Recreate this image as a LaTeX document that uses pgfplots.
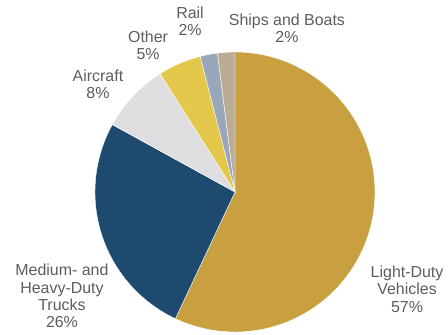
\documentclass[border=0pt]{standalone}
\usepackage{pgfplots}
\pgfplotsset{compat=1.18}
\usepackage{fontspec}
\setmainfont{Liberation Sans}
\definecolor{cLDV}{HTML}{C9A040}
\definecolor{cTruck}{HTML}{1D4A6E}
\definecolor{cAir}{HTML}{DEDEE0}
\definecolor{cOther}{HTML}{E3C84C}
\definecolor{cRail}{HTML}{9AA7BA}
\definecolor{cShip}{HTML}{BBAC96}
\definecolor{txt}{HTML}{5C5C5C}
% shares in percent
\def\vLDV{57}
\def\vTruck{26}
\def\vAir{8}
\def\vOther{5}
\def\vRail{2}
\def\vShip{2}
\tikzset{lbl/.style={font=\fontsize{16}{17.5}\selectfont, text=txt, align=center, inner sep=0pt}}
\begin{document}
\begin{tikzpicture}
\pgfmathsetmacro\aA{90}
\pgfmathsetmacro\aB{\aA-3.6*\vLDV}
\pgfmathsetmacro\aC{\aB-3.6*\vTruck}
\pgfmathsetmacro\aD{\aC-3.6*\vAir}
\pgfmathsetmacro\aE{\aD-3.6*\vOther}
\pgfmathsetmacro\aF{\aE-3.6*\vRail}
\pgfmathsetmacro\aG{\aF-3.6*\vShip}
\begin{axis}[
  hide axis, scale only axis,
  x=140bp, y=140bp,
  xmin=-1.678571, xmax=1.521429,
  ymin=-1.021429, ymax=1.371429,
  clip=false,
]
\addplot[fill=cLDV, draw=white, line width=0.4pt, domain=\aB:\aA, samples=80, variable=\t] ({cos(t)},{sin(t)}) -- (axis cs:0,0) -- cycle;
\addplot[fill=cTruck, draw=white, line width=0.4pt, domain={\aC+360}:{\aB+360}, samples=50, variable=\t] ({cos(t)},{sin(t)}) -- (axis cs:0,0) -- cycle;
\addplot[fill=cAir, draw=white, line width=0.4pt, domain={\aD+360}:{\aC+360}, samples=20, variable=\t] ({cos(t)},{sin(t)}) -- (axis cs:0,0) -- cycle;
\addplot[fill=cOther, draw=white, line width=0.4pt, domain={\aE+360}:{\aD+360}, samples=15, variable=\t] ({cos(t)},{sin(t)}) -- (axis cs:0,0) -- cycle;
\addplot[fill=cRail, draw=white, line width=0.4pt, domain={\aF+360}:{\aE+360}, samples=8, variable=\t] ({cos(t)},{sin(t)}) -- (axis cs:0,0) -- cycle;
\addplot[fill=cShip, draw=white, line width=0.4pt, domain={\aG+360}:{\aF+360}, samples=8, variable=\t] ({cos(t)},{sin(t)}) -- (axis cs:0,0) -- cycle;
\node[lbl] at (axis cs:0.371,1.171) {Ships and Boats\\2\%};
\node[lbl] at (axis cs:-0.321,1.218) {Rail\\2\%};
\node[lbl] at (axis cs:-0.621,1.046) {Other\\5\%};
\node[lbl] at (axis cs:-0.979,0.768) {Aircraft\\8\%};
\node[lbl] at (axis cs:-1.236,-0.743) {Medium- and\\Heavy-Duty\\Trucks\\26\%};
\node[lbl] at (axis cs:1.229,-0.693) {Light-Duty\\Vehicles\\57\%};
\end{axis}
\pgfresetboundingbox
\useasboundingbox (current axis.south west) rectangle (current axis.north east);
\end{tikzpicture}
\end{document}
